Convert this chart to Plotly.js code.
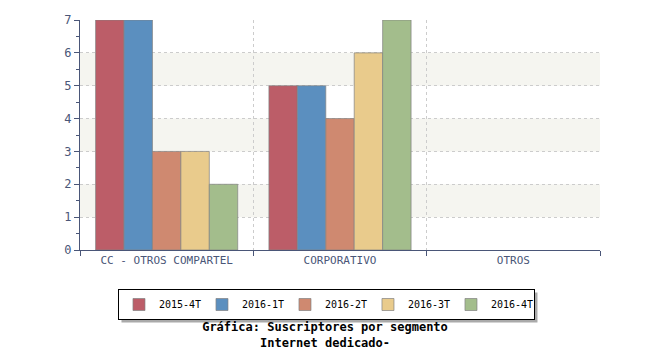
<!DOCTYPE html>
<html>
<head>
<meta charset="utf-8">
<script src="https://cdn.plot.ly/plotly-3.0.1.min.js"></script>
<style>html,body{margin:0;padding:0;background:#fff;}#chart{width:650px;height:350px;}</style>
</head>
<body>
<div id="chart"></div>
<script>
var categories = ["CC - OTROS COMPARTEL", "CORPORATIVO", "OTROS"];
var seriesNames = ["2015-4T", "2016-1T", "2016-2T", "2016-3T", "2016-4T"];
var values_2015_4T = [7, 5, 0];
var values_2016_1T = [7, 5, 0];
var values_2016_2T = [3, 4, 0];
var values_2016_3T = [3, 6, 0];
var values_2016_4T = [2, 7, 0];
var seriesColors = ["#bc5d68", "#5b8fbf", "#cf8970", "#e9cb8c", "#a3bd8c"];
var yTicks = [0, 1, 2, 3, 4, 5, 6, 7];

var allValues = [values_2015_4T, values_2016_1T, values_2016_2T, values_2016_3T, values_2016_4T];
var font = "DejaVu Sans Mono, monospace";
var axisColor = "#4a5678";

var traces = seriesNames.map(function (name, i) {
  return {
    type: "bar",
    name: name,
    x: categories,
    y: allValues[i],
    marker: {
      color: seriesColors[i],
      line: { color: "rgba(130,130,130,0.7)", width: allValues[i].map(function (v) { return v > 0 ? 1 : 0; }) }
    },
    hoverinfo: "x+y+name"
  };
});

var shapes = [];
[[1, 2], [3, 4], [5, 6]].forEach(function (b) {
  shapes.push({ type: "rect", xref: "paper", yref: "y", x0: 0, x1: 1, y0: b[0], y1: b[1],
    fillcolor: "#f5f5f0", line: { width: 0 }, layer: "below" });
});

var layout = {
  width: 650, height: 350,
  margin: { l: 80, r: 50, t: 20, b: 100, autoexpand: false },
  paper_bgcolor: "#ffffff", plot_bgcolor: "rgba(0,0,0,0)",
  barmode: "group", bargap: 0.18, bargroupgap: 0,
  font: { family: font, size: 11, color: axisColor },
  showlegend: true,
  legend: {
    orientation: "h", x: 0.474, xanchor: "center", y: (250 - 289) / 230, yanchor: "top",
    bgcolor: "#ffffff", bordercolor: "#000000", borderwidth: 1,
    font: { family: font, size: 10, color: "#000000" },
    entrywidth: 38, itemwidth: 30, traceorder: "normal", tracegroupgap: 0
  },
  title: {
    text: "<b>Gráfica: Suscriptores por segmento<br>Internet dedicado-</b>",
    font: { family: font, size: 12, color: "#000000" },
    x: 0.5, xref: "container", y: 1 - 331 / 350, yref: "container", yanchor: "middle"
  },
  xaxis: {
    type: "category", tickson: "boundaries",
    showline: true, linecolor: axisColor, linewidth: 1,
    ticks: "outside", ticklen: 5, tickcolor: axisColor,
    showgrid: true, gridcolor: "#cccccc", griddash: "dot", gridwidth: 1,
    tickfont: { family: font, size: 11, color: axisColor },
    fixedrange: true
  },
  yaxis: {
    range: [0, 7], tickvals: yTicks,
    showline: true, linecolor: axisColor, linewidth: 1,
    ticks: "outside", ticklen: 5, tickcolor: axisColor,
    minor: { dtick: 0.5, ticks: "outside", ticklen: 3, tickcolor: axisColor, showgrid: false },
    showgrid: true, gridcolor: "#cccccc", griddash: "dot", gridwidth: 1,
    zeroline: false,
    tickfont: { family: font, size: 12, color: axisColor },
    fixedrange: true
  },
  shapes: shapes
};

Plotly.newPlot("chart", traces, layout, { displayModeBar: false }).then(function (gd) {
  // add a drop shadow behind the legend box
  var bg = gd.querySelector("g.legend rect.bg");
  if (!bg) return;
  var r = bg.getBoundingClientRect();
  var c = gd.getBoundingClientRect();
  var L = r.left - c.left, T = r.top - c.top, W = r.width, H = r.height;
  var off = 3;
  var ps = gd._fullLayout._size;
  var toPx = function (px) { return (px - ps.l) / ps.w; };
  var toPy = function (py) { return (ps.t + ps.h - py) / ps.h; };
  var s = shapes.slice();
  s.push({ type: "rect", xref: "paper", yref: "paper",
    x0: toPx(L + off), x1: toPx(L + W + off), y0: toPy(T + H + off), y1: toPy(T + off),
    fillcolor: "#aaaaaa", line: { width: 0 }, layer: "above" });
  Plotly.relayout(gd, { shapes: s });
});
</script>
</body>
</html>
